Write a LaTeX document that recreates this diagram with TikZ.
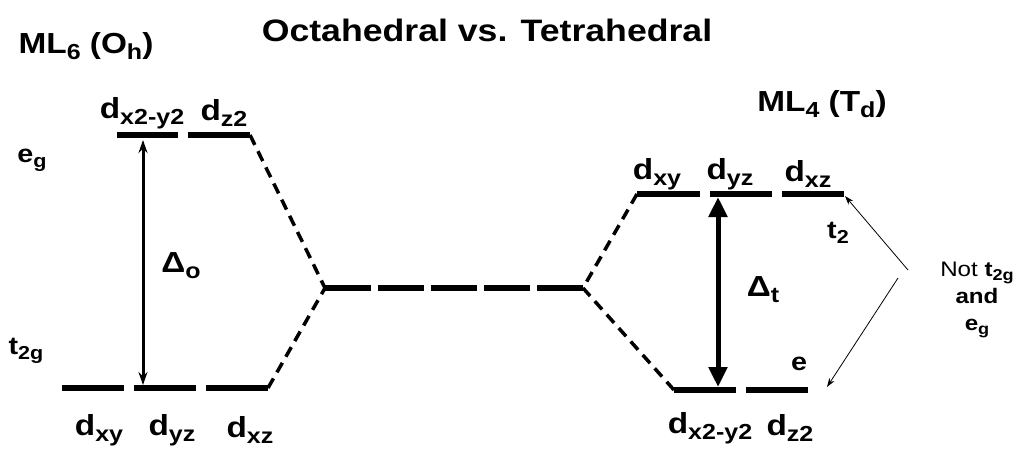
\documentclass[tikz,border=0pt]{standalone}
\usepackage{fontspec}
\setmainfont{Liberation Sans}[FakeStretch=1.15]
\usetikzlibrary{arrows.meta,positioning}
\newcommand{\lo}[1]{\raisebox{-.2em}{\scalebox{.75}{#1}}}

\begin{document}
\begin{tikzpicture}[x=1pt,y=-1pt,
  lvl/.style={line width=5.5pt},
  corr/.style={line width=3.5pt,dash pattern=on 11pt off 7pt},
  bar/.style={line width=6pt,dash pattern=on 46pt off 7pt},
  lbl/.style={inner sep=0pt,font=\fontsize{29}{32}\bfseries\selectfont},
  sym/.style={inner sep=0pt,font=\fontsize{25}{30}\bfseries\selectfont},
  note/.style={-{Stealth[length=9pt,width=6pt]},line width=0.8pt}]
\useasboundingbox (0,0) rectangle (1022,451);

% levels
\foreach \a/\b/\y in {117/178/135,188/250/135,62/124/388,134/196/388,206/268/388,
  637/700/194,710/772/194,782/844/194,674/736/390,746/808/390}
  \draw[lvl] (\a,\y)--(\b,\y);

\coordinate (oheg) at (250,135); \coordinate (oht) at (268,388);
\coordinate (barl) at (325,288); \coordinate (barr) at (583,288);
\coordinate (tdt) at (637,194); \coordinate (tde) at (674,390);
\draw[corr] (oheg)--(barl); \draw[corr] (oht)--(barl);
\draw[corr] (tdt)--(barr); \draw[corr] (tde)--(barr);
\draw[bar] (barl)--(barr);

% splitting arrows
\coordinate (dotop) at (143,140); \coordinate (dobot) at (143,385);
\draw[{Stealth[length=13pt,width=9pt]}-{Stealth[length=13pt,width=9pt]},line width=3pt]
  (dotop)--(dobot);
\coordinate (dttop) at (718,197); \coordinate (dtbot) at (718,387);
\draw[{Triangle[length=20pt,width=18pt]}-{Triangle[length=20pt,width=18pt]},line width=5pt]
  (dttop)--(dtbot);

% labels
\node[font=\fontsize{31}{36}\bfseries\selectfont,inner sep=0pt] (title) at (487,30)
  {Octahedral vs. Tetrahedral};
\node[lbl] (oh) at (86,46) {ML\lo{6} (O\lo{h})};
\node[lbl] (td) at (822,104) {ML\lo{4} (T\lo{d})};
\node[sym] (eg) at (32,160) {e\lo{g}};
\node[sym] (tg) at (26,351) {t\lo{2g}};
\node[lbl] (ex) at (142,113) {d\lo{x2-y2}};
\node[lbl] (ez) at (224,113) {d\lo{z2}};
\node[lbl] (txy) at (99,430) {d\lo{xy}};
\node[lbl] (tyz) at (172,430) {d\lo{yz}};
\node[lbl] (txz) at (250,430) {d\lo{xz}};
\node[lbl] (dlo) at (181,266) {Δ\lo{o}};
\node[lbl] (rxy) at (657,174) {d\lo{xy}};
\node[lbl] (ryz) at (730,174) {d\lo{yz}};
\node[lbl] (rxz) at (808,174) {d\lo{xz}};
\node[sym] (t2) at (838,233) {t\lo{2}};
\node[lbl] (dlt) at (763,290) {Δ\lo{t}};
\node[sym] (e) at (799,364) {e};
\node[lbl] (rx) at (710,428) {d\lo{x2-y2}};
\node[lbl] (rz) at (790,428) {d\lo{z2}};
\node[align=center,inner sep=0pt,font=\fontsize{21}{27}\selectfont] (nt) at (977,300)
  {Not {\bfseries t\lo{2g}}\\{\bfseries and}\\{\bfseries e\lo{g}}};

\coordinate (na) at (908,270); \coordinate (nb) at (898,278);
\coordinate (t2end) at (845,196); \coordinate (eend) at (827,387);
\draw[note] (na)--(t2end); \draw[note] (nb)--(eend);
\end{tikzpicture}
\end{document}
